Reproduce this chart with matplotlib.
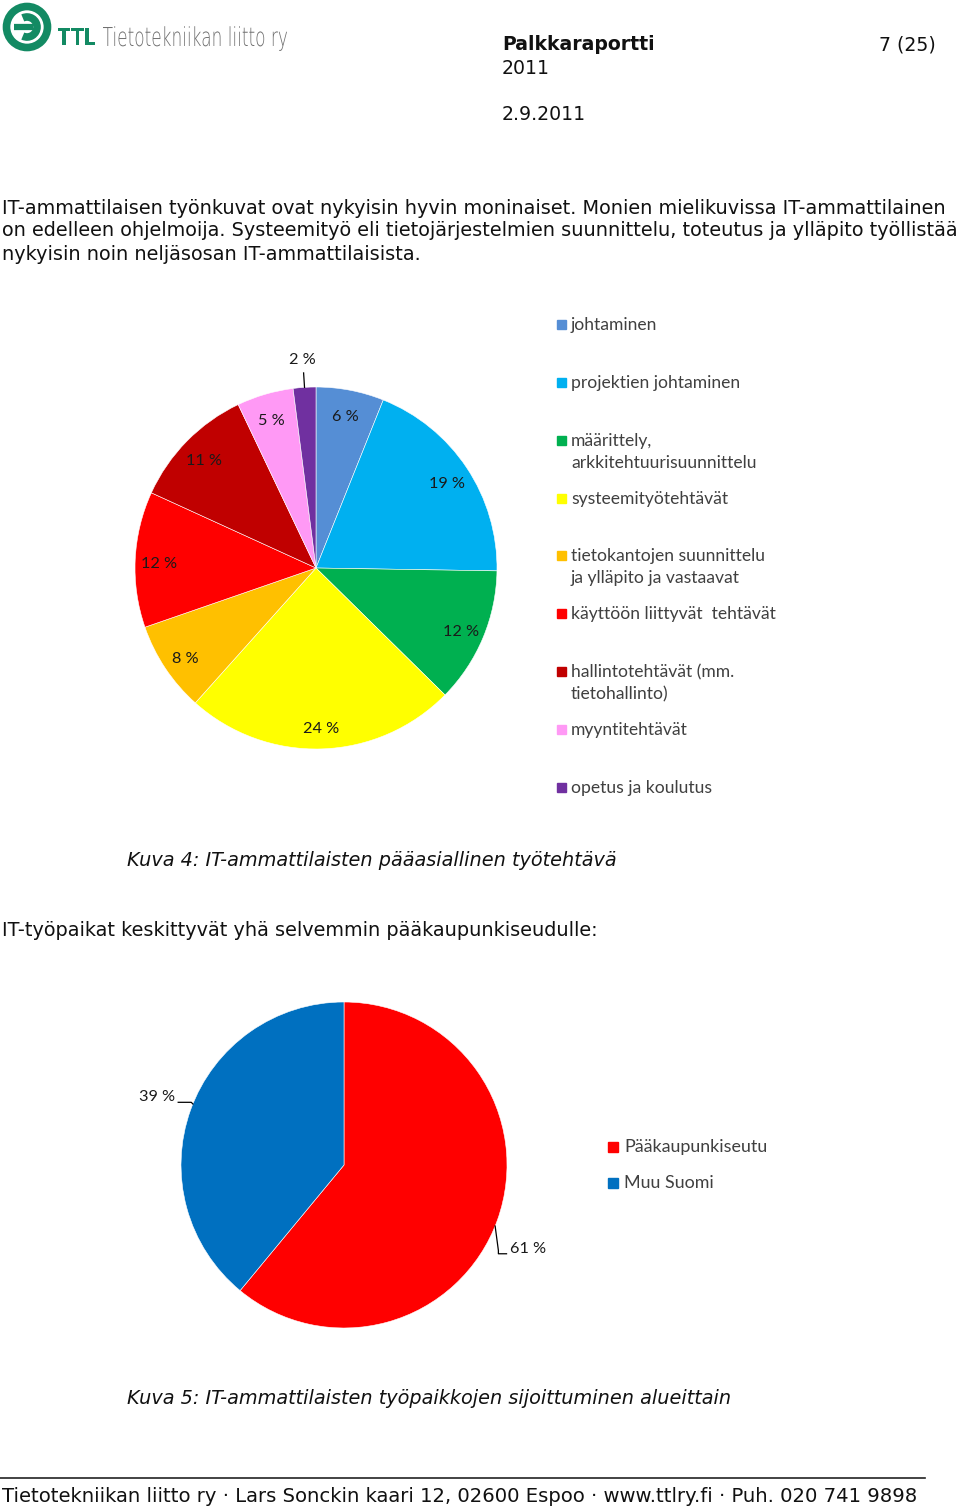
import matplotlib
matplotlib.use("Agg")
import matplotlib.pyplot as plt
from matplotlib.patches import Circle, Arc, Rectangle, PathPatch
from matplotlib.textpath import TextPath
from matplotlib.font_manager import FontProperties
from matplotlib.transforms import Affine2D
import numpy as np

# ---------------- data ----------------
task_labels = ["johtaminen", "projektien johtaminen", "määrittely,\narkkitehtuurisuunnittelu",
               "systeemityötehtävät", "tietokantojen suunnittelu\nja ylläpito ja vastaavat",
               "käyttöön liittyvät  tehtävät", "hallintotehtävät (mm.\ntietohallinto)",
               "myyntitehtävät", "opetus ja koulutus"]
task_values = [6, 19, 12, 24, 8, 12, 11, 5, 2]
task_colors = ["#558ED5", "#00B0F0", "#00B050", "#FFFF00", "#FFC000",
               "#FF0000", "#C00000", "#FF99F5", "#7030A0"]

region_labels = ["Pääkaupunkiseutu", "Muu Suomi"]
region_values = [61, 39]
region_colors = ["#FF0000", "#0070C0"]

W, H = 960, 1509
fig = plt.figure(figsize=(W / 100, H / 100), dpi=100)
bg = fig.add_axes([0, 0, 1, 1])
bg.set_xlim(0, W)
bg.set_ylim(H, 0)
bg.axis("off")
renderer = fig.canvas.get_renderer()

BODY = ["DejaVu Sans"]
CAL = ["Lato", "DejaVu Sans"]


def fit(x, y, s, width, **kw):
    t = bg.text(x, y, s, **kw)
    bb = t.get_window_extent(renderer)
    t.set_fontsize(t.get_fontsize() * width / bb.width)
    return t


def fsize_for(s, width, **kw):
    t = bg.text(0, 0, s, **kw)
    bb = t.get_window_extent(renderer)
    fs = t.get_fontsize() * width / bb.width
    t.remove()
    return fs


def logo_text(s, x0, baseline, width, cap, prop, color):
    tp = TextPath((0, 0), s, size=100, prop=prop)
    ext = tp.get_extents()
    caph = TextPath((0, 0), "T", size=100, prop=prop).get_extents().height
    tr = Affine2D().translate(-ext.x0, 0).scale(width / ext.width, -cap / caph).translate(x0, baseline)
    bg.add_patch(PathPatch(tr.transform_path(tp), fc=color, lw=0))


# ---------------- logo ----------------
green = "#138A63"
bg.add_patch(Circle((27, 27), 20.5, fill=False, ec=green, lw=5.5))
bg.add_patch(Arc((27, 27), 20, 20, theta1=-115, theta2=115, ec=green, lw=5.5))
bg.plot([14, 33], [27, 27], color=green, lw=4.5, solid_capstyle="butt")
logo_text("TTL", 58, 45, 37, 17, FontProperties(family="DejaVu Sans", weight="bold"), green)
logo_text("Tietotekniikan liitto ry", 103, 46, 184, 19,
          FontProperties(family="DejaVu Sans", weight="light"), "#707070")

# ---------------- header ----------------
hfs = fsize_for("Palkkaraportti", 153, family=BODY, weight="bold")
bg.text(502, 45, "Palkkaraportti", family=BODY, weight="bold", fontsize=hfs, va="center", color="#111")
bg.text(502, 68, "2011", family=BODY, fontsize=hfs, va="center", color="#111")
bg.text(502, 115, "2.9.2011", family=BODY, fontsize=hfs, va="center", color="#111")
bg.text(936, 45, "7 (25)", family=BODY, fontsize=hfs, va="center", ha="right", color="#111")

# ---------------- body text ----------------
l1 = "IT-ammattilaisen työnkuvat ovat nykyisin hyvin moninaiset. Monien mielikuvissa IT-ammattilainen"
l2 = "on edelleen ohjelmoija. Systeemityö eli tietojärjestelmien suunnittelu, toteutus ja ylläpito työllistää"
l3 = "nykyisin noin neljäsosan IT-ammattilaisista."
bfs = min(fsize_for(l1, 953, family=BODY), fsize_for(l2, 956, family=BODY))
for yy, s in zip([208, 231, 255], [l1, l2, l3]):
    bg.text(2, yy, s, family=BODY, fontsize=bfs, va="center", color="#111")

bg.text(127, 860, "Kuva 4: IT-ammattilaisten pääasiallinen työtehtävä", family=BODY,
        style="italic", fontsize=bfs, va="center", color="#111")
bg.text(2, 930, "IT-työpaikat keskittyvät yhä selvemmin pääkaupunkiseudulle:", family=BODY,
        fontsize=bfs, va="center", color="#111")
bg.text(127, 1399, "Kuva 5: IT-ammattilaisten työpaikkojen sijoittuminen alueittain", family=BODY,
        style="italic", fontsize=bfs, va="center", color="#111")

# footer
bg.plot([0, 925], [1478, 1478], color="#222", lw=1.2)
fit(2, 1497, "Tietotekniikan liitto ry · Lars Sonckin kaari 12, 02600 Espoo · www.ttlry.fi · Puh. 020 741 9898",
    916, family=BODY, va="center", color="#111", fontsize=13)


# ---------------- pies ----------------
def pie_axes(cx, cy, r):
    return fig.add_axes([(cx - r) / W, 1 - (cy + r) / H, 2 * r / W, 2 * r / H])


lfs = fsize_for("19 %", 36, family=CAL)

ax1 = pie_axes(316, 568, 181)
wedges, _ = ax1.pie(task_values, colors=task_colors, startangle=90, counterclock=False,
                    wedgeprops=dict(edgecolor="white", linewidth=0.4))
ax1.set_xlim(-1, 1)
ax1.set_ylim(-1, 1)
ax1.set_aspect("auto")
ax1.axis("off")
for w, v in zip(wedges, task_values):
    ang = np.deg2rad((w.theta1 + w.theta2) / 2)
    if v <= 2:
        x0, y0 = np.cos(ang), np.sin(ang)
        ax1.plot([x0 * 1.0, x0 * 1.08], [y0 * 1.0, y0 * 1.08], color="black", lw=0.9, clip_on=False)
        ax1.text(x0 * 1.15, y0 * 1.15, f"{v} %", ha="center", va="center", family=CAL,
                 fontsize=lfs, color="#1a1a1a", clip_on=False)
    else:
        rr = 0.87
        ax1.text(rr * np.cos(ang), rr * np.sin(ang) - 0.02, f"{v} %", ha="center", va="center",
                 family=CAL, fontsize=lfs, color="#1a1a1a")

# legend 1
legfs = fsize_for("projektien johtaminen", 170, family=CAL)
leg_y = [324, 382, 440, 498, 555, 613, 671, 729, 787]
for yy, lab, col in zip(leg_y, task_labels, task_colors):
    bg.add_patch(Rectangle((557, yy - 4), 9, 9, color=col))
    bg.text(571, yy - 7, lab, family=CAL, fontsize=legfs, va="top", ha="left", color="#404040",
            linespacing=1.45)

# pie 2
ax2 = pie_axes(344, 1165, 163)
wedges2, _ = ax2.pie(region_values, colors=region_colors, startangle=90, counterclock=False,
                     wedgeprops=dict(edgecolor="white", linewidth=0.4))
ax2.set_xlim(-1, 1)
ax2.set_ylim(-1, 1)
ax2.set_aspect("auto")
ax2.axis("off")
# 61 % label (right, lower)
ang = np.deg2rad(-22)
x0, y0 = np.cos(ang), np.sin(ang)
ax2.plot([x0, x0 + 0.02, x0 + 0.02, x0 + 0.07], [y0, y0 - 0.15, y0 - 0.17, y0 - 0.17],
         color="black", lw=0.9, clip_on=False)
ax2.text(x0 + 0.09, y0 - 0.14, f"{region_values[0]} %", ha="left", va="center", family=CAL,
         fontsize=lfs, color="#1a1a1a", clip_on=False)
# 39 % label (left, upper)
ang = np.deg2rad(158)
x0, y0 = np.cos(ang), np.sin(ang)
ax2.plot([x0, x0 - 0.01, x0 - 0.09], [y0, y0 + 0.01, y0 + 0.01], color="black", lw=0.9, clip_on=False)
ax2.text(x0 - 0.11, y0 + 0.04, f"{region_values[1]} %", ha="right", va="center", family=CAL,
         fontsize=lfs, color="#1a1a1a", clip_on=False)

for yy, lab, col in zip([1147, 1183], region_labels, region_colors):
    bg.add_patch(Rectangle((608, yy - 5), 10, 10, color=col))
    bg.text(624, yy, lab, family=CAL, fontsize=legfs * 1.02, va="center", ha="left", color="#404040")

fig.savefig("out.png", dpi=100, facecolor="white")
